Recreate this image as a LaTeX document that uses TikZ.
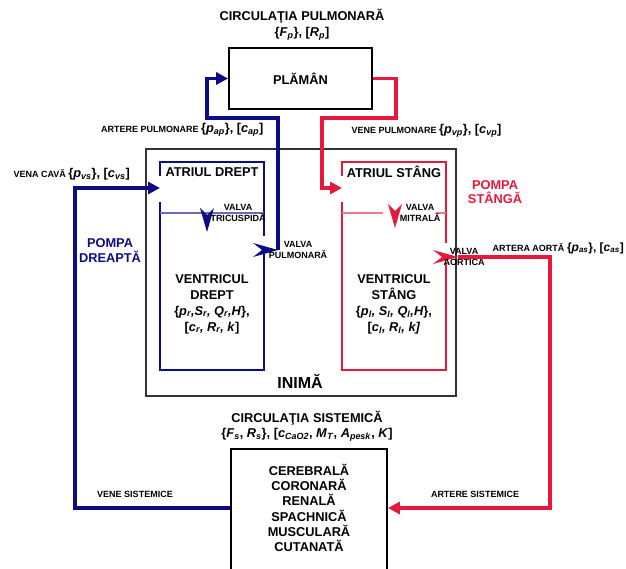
\documentclass[tikz,border=0pt]{standalone}
\usepackage{fontspec}
\setmainfont{Liberation Sans}
\usepackage{tikz}
\usetikzlibrary{arrows.meta}
\definecolor{RHcolor}{HTML}{0C0C84}
\definecolor{LHcolor}{HTML}{E8173C}
\definecolor{RHlight}{HTML}{6C6CB6}
\definecolor{LHlight}{HTML}{F07A8A}
\newcommand{\vsub}[2]{\textit{#1}\textsubscript{\textit{#2}}}
\newcommand{\boxfont}{\fontsize{12.8}{16}\selectfont\bfseries}
\newcommand{\labfont}{\fontsize{9}{11}\selectfont\bfseries}

\begin{document}
\begin{tikzpicture}[x=1pt, y=-1pt,
    vessel/.style={line width=3.5pt, -{Triangle[length=12pt,width=12pt]}},
    chamber/.style={line width=2pt},
    organ/.style={draw, line width=1.8pt, inner sep=0pt},
    valvedn/.pic={\fill (-7,0) -- (0,7) -- (7,0) -- (0,24) -- cycle;},
    valvert/.pic={\fill (0,-7) -- (9,0) -- (0,7) -- (25,0) -- cycle;}]
  \clip (0,0) rectangle (626,569);

  % plaman
  \node[font=\boxfont, align=center] (pultitle) at (302,25) {CIRCULAŢIA PULMONARĂ\\\{\vsub{F}{p}\}, [\vsub{R}{p}]};
  \node[organ, minimum width=143, minimum height=61, font=\boxfont] (plaman) at (300.5,78.5) {PLĂMÂN};

  % inima
  \node[draw=black!80, line width=1.2pt, minimum width=310, minimum height=247] (inima) at (301,272.5) {};
  \node[font=\fontsize{16}{18}\selectfont\bfseries] (inimalbl) at (300,381) {INIMĂ};

  % camere
  \draw[RHcolor, chamber] (160,176) |- (264,162) -- (264,236);
  \draw[RHcolor, chamber] (264,254) |- (160,370) -- (160,202);
  \draw[LHcolor, chamber] (342,176) |- (446,162) -- (446,243);
  \draw[LHcolor, chamber] (446,263) |- (342,370) -- (342,202);
  \draw[RHlight, line width=1.5pt] (160,213) -- (264,213);
  \draw[LHlight, line width=1.5pt] (342,213) -- (383,213) (436,213) -- (446,213);

  \node[font=\boxfont] (adr) at (212,172) {ATRIUL DREPT};
  \node[font=\boxfont] (ast) at (394,172) {ATRIUL STÂNG};
  \node[font=\boxfont, align=center] (vdr) at (212,304) {VENTRICUL\\DREPT\\\{\textit{p\textsubscript{r},S\textsubscript{r}, Q\textsubscript{r},H}\},\\{}[\textit{c\textsubscript{r}, R\textsubscript{r}, k}]};
  \node[font=\boxfont, align=center] (vst) at (394,304) {VENTRICUL\\STÂNG\\\{\textit{p\textsubscript{l}, S\textsubscript{l}, Q\textsubscript{l},H}\},\\{}[\textit{c\textsubscript{l}, R\textsubscript{l}, k]}};

  % valve
  \pic[RHcolor] at (207,208) {valvedn};
  \pic[LHcolor] at (395,204) {valvedn};
  \pic[RHcolor] at (253,250) {valvert};
  \pic[LHcolor] at (433,257) {valvert};
  \coordinate (pvalve) at (278,250);
  \coordinate (avalve) at (458,257);
  \coordinate (rainlet) at (160,188);
  \coordinate (lainlet) at (342,188);

  \node[font=\labfont, align=center] (vtric) at (238,213) {VALVA\\TRICUSPIDĂ};
  \node[font=\labfont, align=center] (vpulm) at (298,250) {VALVA\\PULMONARĂ};
  \node[font=\labfont, align=center] (vmitr) at (420,213) {VALVA\\MITRALĂ};
  \node[font=\labfont, align=center] (vaort) at (464,257) {VALVA\\AORTICĂ};

  \node[font=\fontsize{12.8}{15}\selectfont\bfseries, RHcolor, align=center] (pdr) at (110,251) {POMPA\\DREAPTĂ};
  \node[font=\fontsize{12.8}{14}\selectfont\bfseries, LHcolor, align=center] (pst) at (495,192) {POMPA\\STÂNGĂ};

  % circulatia sistemica
  \node[font=\fontsize{12.8}{15}\selectfont\bfseries, align=center] (sistitle) at (307,426.5) {CIRCULAŢIA SISTEMICĂ\\\{\vsub{F}{s}, \vsub{R}{s}\}, [\vsub{c}{CaO2}, \vsub{M}{T}, \vsub{A}{pesk}, \textit{K}]};
  \node[organ, minimum width=156, minimum height=140, anchor=north] (sist) at (309,448) {};
  \node[font=\fontsize{12.8}{15.3}\selectfont\bfseries, align=center] (organs) at (309,508) {CEREBRALĂ\\CORONARĂ\\RENALĂ\\SPACHNICĂ\\MUSCULARĂ\\CUTANATĂ};

  % vase
  \draw[vessel, RHcolor] (pvalve) |- (207,118) |- (plaman.west);
  \draw[vessel, LHcolor] (plaman.east) -| (396,118) -| (322,188) -- (lainlet);
  \draw[vessel, LHcolor] (avalve) -| (550,508) -- (organs -| sist.east);
  \draw[vessel, RHcolor] (organs -| sist.west) -| (75,188) -- (rainlet);

  \node[font=\labfont, anchor=east] (artpul) at (267,130) {ARTERE PULMONARE {\boxfont\{\vsub{p}{ap}\}, [\vsub{c}{ap}]}};
  \node[font=\labfont, anchor=west] (venpul) at (348,131) {VENE PULMONARE {\boxfont\{\vsub{p}{vp}\}, [\vsub{c}{vp}]}};
  \node[font=\labfont, anchor=west] (vcava) at (10,174) {VENA CAVĂ {\boxfont\{\vsub{p}{vs}\}, [\vsub{c}{vs}]}};
  \node[font=\labfont, anchor=east, inner xsep=1pt] (aorta) at (625,248) {ARTERA AORTĂ {\fontsize{12}{14}\selectfont\{\vsub{p}{as}\}, [\vsub{c}{as}]}};
  \node[font=\labfont] (vensis) at (135,494) {VENE SISTEMICE};
  \node[font=\labfont] (artsis) at (475,494) {ARTERE SISTEMICE};
\end{tikzpicture}
\end{document}
